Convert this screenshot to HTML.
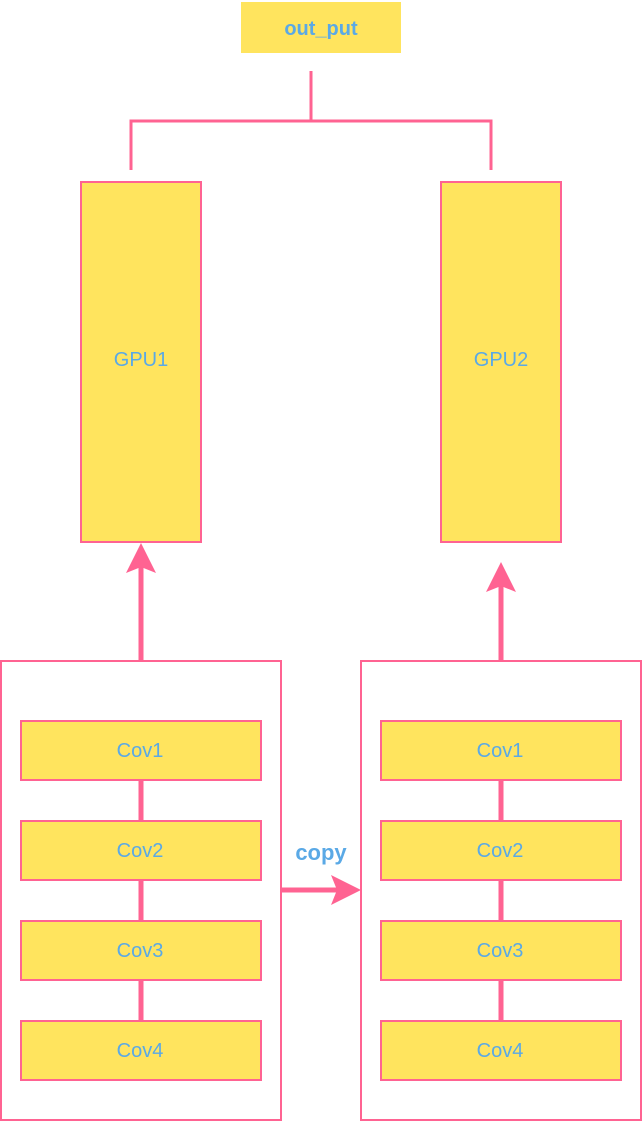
<!DOCTYPE html>
<html><head><style>html,body{margin:0;padding:0;background:#fff;}</style></head>
<body>
<svg width="644" height="1122" xmlns="http://www.w3.org/2000/svg" font-family="Liberation Sans, sans-serif">
<rect x="241" y="2" width="160" height="51" fill="#FFE45E"/>
<text x="321" y="35" text-anchor="middle" font-size="20" font-weight="bold" fill="#5AA9E6">out_put</text>
<g stroke="#FF6392" stroke-width="3" fill="none">
<path d="M311 71 V121 M131 170 V121 H491 V170"/>
</g>
<rect x="81" y="182" width="120" height="360" fill="#FFE45E" stroke="#FF6392" stroke-width="2"/>
<rect x="441" y="182" width="120" height="360" fill="#FFE45E" stroke="#FF6392" stroke-width="2"/>
<text x="141" y="366" text-anchor="middle" font-size="20" fill="#5AA9E6">GPU1</text>
<text x="501" y="366" text-anchor="middle" font-size="20" fill="#5AA9E6">GPU2</text>
<g stroke="#FF6392" stroke-width="5">
<line x1="141" y1="661" x2="141" y2="565"/>
<line x1="501" y1="661" x2="501" y2="585"/>
<line x1="281" y1="890" x2="340" y2="890"/>
</g>
<g fill="#FF6392">
<path d="M141 543 L126 573 L141 567 L156 573 Z"/>
<path d="M501 562 L486 592 L501 586 L516 592 Z"/>
<path d="M361 890 L331 875 L337 890 L331 905 Z"/>
</g>
<rect x="1" y="661" width="280" height="459" fill="none" stroke="#FF6392" stroke-width="2"/>
<rect x="361" y="661" width="280" height="459" fill="none" stroke="#FF6392" stroke-width="2"/>
<g stroke="#FF6392" stroke-width="5">
<line x1="141" y1="780" x2="141" y2="1021"/>
<line x1="501" y1="780" x2="501" y2="1021"/>
</g>
<g fill="#FFE45E" stroke="#FF6392" stroke-width="2">
<rect x="21" y="721" width="240" height="59"/><rect x="21" y="821" width="240" height="59"/>
<rect x="21" y="921" width="240" height="59"/><rect x="21" y="1021" width="240" height="59"/>
<rect x="381" y="721" width="240" height="59"/><rect x="381" y="821" width="240" height="59"/>
<rect x="381" y="921" width="240" height="59"/><rect x="381" y="1021" width="240" height="59"/>
</g>
<g font-size="20" fill="#5AA9E6" text-anchor="middle">
<text x="140" y="757">Cov1</text><text x="140" y="857">Cov2</text>
<text x="140" y="957">Cov3</text><text x="140" y="1057">Cov4</text>
<text x="500" y="757">Cov1</text><text x="500" y="857">Cov2</text>
<text x="500" y="957">Cov3</text><text x="500" y="1057">Cov4</text>
</g>
<text x="321" y="860" text-anchor="middle" font-size="22" font-weight="bold" fill="#5AA9E6">copy</text>
</svg>
</body></html>
